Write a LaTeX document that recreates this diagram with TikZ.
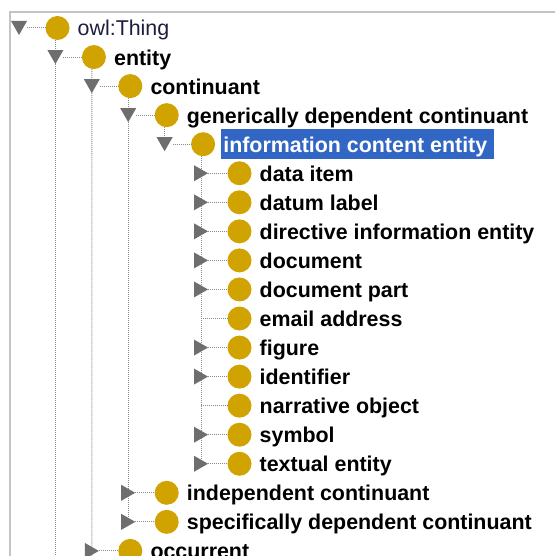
\documentclass[tikz,border=0pt]{standalone}
\usepackage{fontspec}
\setmainfont{Liberation Sans}
\definecolor{ballgold}{HTML}{D1A300}
\definecolor{togglegray}{HTML}{6E6E6E}
\definecolor{dotgray}{HTML}{8A8A8A}
\definecolor{framegray}{HTML}{C4C4C4}
\definecolor{selblue}{HTML}{3166C4}
\definecolor{rootink}{HTML}{1E1E3C}
\pgfdeclarelayer{back}
\pgfdeclarelayer{bg}
\pgfsetlayers{back,bg,main}
\tikzset{
  ball/.style={circle, fill=ballgold, draw=none, minimum size=24pt, inner sep=0pt},
  toggle/.style={fill=togglegray},
  dots/.style={draw=dotgray, line width=1pt, dash pattern=on 1pt off 1pt},
  itemtext/.style={inner sep=0pt, font=\fontsize{21.4}{24}\selectfont\bfseries, text=black},
  roottext/.style={inner sep=0pt, font=\fontsize{21.4}{24}\selectfont, text=rootink},
  seltext/.style={inner sep=0pt, font=\fontsize{21.4}{24}\selectfont\bfseries, text=white},
  frame/.style={draw=framegray, line width=1.6pt},
}
% #1 name, #2 depth, #3 row, #4 toggle (0 leaf, 1 open, 2 closed), #5 text style, #6 text
\newcommand\treeitem[6]{%
  \pgfmathsetmacro\tx{19+36.4*#2}%
  \pgfmathsetmacro\cx{57.5+36.4*#2}%
  \pgfmathsetmacro\lx{77.5+36.4*#2}%
  \pgfmathsetmacro\ry{28+29.05*#3}%
  \coordinate (#1-t) at (\tx,\ry);
  \node[ball] (#1) at (\cx,\ry) {};
  \node[#5, anchor=base west] (#1-l) at (\lx,\ry+8) {#6};
  \ifcase#4
    \draw[dots] (#1-t) -- (#1.west);
  \or
    \fill[toggle] (\tx-8,\ry-7) -- (\tx+8,\ry-7) -- (\tx,\ry+7) -- cycle;
    \draw[dots] (\tx+8,\ry) -- (#1.west);
  \or
    \fill[toggle] (\tx-7,\ry-8) -- (\tx+7,\ry) -- (\tx-7,\ry+8) -- cycle;
    \draw[dots] (\tx+7,\ry) -- (#1.west);
  \fi
}
\begin{document}
\begin{tikzpicture}[x=1pt, y=-1pt]
  \useasboundingbox (0,0) rectangle (555,556);
  \clip (0,0) rectangle (555,556);
  \begin{pgfonlayer}{back}
    \fill[white] (0,0) rectangle (555,556);
  \end{pgfonlayer}
  % panel frame
  \draw[frame] (10,560) -- (10,12) -- (560,12);

  \treeitem{thing}{0}{0}{1}{roottext}{owl:Thing}
  \treeitem{entity}{1}{1}{1}{itemtext}{entity}
  \treeitem{cont}{2}{2}{1}{itemtext}{continuant}
  \treeitem{gdc}{3}{3}{1}{itemtext}{generically dependent continuant}
  \treeitem{ice}{4}{4}{1}{seltext}{information content entity}
  \treeitem{dataitem}{5}{5}{2}{itemtext}{data item}
  \treeitem{datumlabel}{5}{6}{2}{itemtext}{datum label}
  \treeitem{directive}{5}{7}{2}{itemtext}{directive information entity}
  \treeitem{document}{5}{8}{2}{itemtext}{document}
  \treeitem{docpart}{5}{9}{2}{itemtext}{document part}
  \treeitem{email}{5}{10}{0}{itemtext}{email address}
  \treeitem{figure}{5}{11}{2}{itemtext}{figure}
  \treeitem{identifier}{5}{12}{2}{itemtext}{identifier}
  \treeitem{narrative}{5}{13}{0}{itemtext}{narrative object}
  \treeitem{symbol}{5}{14}{2}{itemtext}{symbol}
  \treeitem{textual}{5}{15}{2}{itemtext}{textual entity}
  \treeitem{indep}{3}{16}{2}{itemtext}{independent continuant}
  \treeitem{sdc}{3}{17}{2}{itemtext}{specifically dependent continuant}
  \treeitem{occ}{2}{18}{2}{itemtext}{occurrent}

  \coordinate (thing-end) at (55.4,560);
  \coordinate (entity-end) at (91.8,560);

  \begin{pgfonlayer}{bg}
    % selection highlight
    \fill[selblue] ([xshift=-2pt,yshift=23.5pt]ice-l.base west) rectangle ([xshift=6.5pt,yshift=-6.5pt]ice-l.base east);
    % branch lines
    \draw[dots] (thing.south -| entity-t) -- (thing-end);
    \draw[dots] (entity.south -| cont-t) -- (entity-end);
    \draw[dots] (cont.south -| gdc-t) -- (sdc-t);
    \draw[dots] (gdc.south -| ice-t) -- (ice-t);
    \draw[dots] (ice.south -| dataitem-t) -- (textual-t);
  \end{pgfonlayer}
\end{tikzpicture}
\end{document}
